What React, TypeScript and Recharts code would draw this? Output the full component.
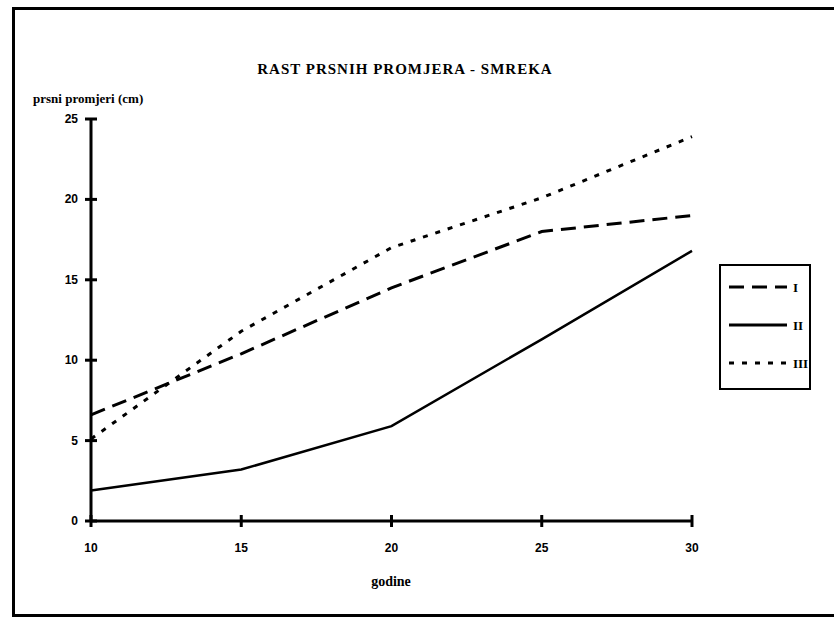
import React from "react";
import { LineChart, Line, XAxis, YAxis, Legend } from "recharts";

const years = [10, 15, 20, 25, 30];
const seriesI = [6.6, 10.4, 14.5, 18.0, 19.0];
const seriesII = [1.9, 3.2, 5.9, 11.3, 16.8];
const seriesIII = [5.1, 11.8, 17.0, 20.1, 23.9];
const yTicks = [0, 5, 10, 15, 20, 25];
const xTicks = [10, 15, 20, 25, 30];

const chartData = years.map((year, i) => ({
  year,
  I: seriesI[i],
  II: seriesII[i],
  III: seriesIII[i],
}));

const dashes: Record<string, string | undefined> = {
  I: "15 8",
  II: undefined,
  III: "5 8",
};

const serif = '"Liberation Serif", "DejaVu Serif", serif';
const sans = '"Liberation Sans", Arial, sans-serif';

const YTick = (props: any) => {
  const { x, y, payload } = props;
  return (
    <g>
      <line x1={x - 6} x2={x + 6} y1={y} y2={y} stroke="#000" strokeWidth={3} />
      <text x={x - 13} y={y + 4} textAnchor="end" fontFamily={sans} fontWeight="bold" fontSize={12} fill="#000">
        {payload.value}
      </text>
    </g>
  );
};

const XTick = (props: any) => {
  const { x, y, payload } = props;
  return (
    <g>
      <line x1={x} x2={x} y1={y - 6} y2={y + 6} stroke="#000" strokeWidth={3} />
      <text x={x} y={y + 31} textAnchor="middle" fontFamily={sans} fontWeight="bold" fontSize={12} fill="#000">
        {payload.value}
      </text>
    </g>
  );
};

const LegendBox = (props: any) => {
  const items = props.payload || [];
  return (
    <div style={{ width: 92, height: 126, border: "2px solid #000", boxSizing: "border-box", background: "#fff" }}>
      <svg width={88} height={122}>
        {items.map((item: any, i: number) => {
          const y = 21 + i * 38;
          return (
            <g key={item.value}>
              <line x1={8} x2={66} y1={y} y2={y} stroke="#000" strokeWidth={3} strokeDasharray={dashes[item.value]} />
              <text x={72} y={y + 5} fontFamily={serif} fontWeight="bold" fontSize={13} fill="#000">
                {item.value}
              </text>
            </g>
          );
        })}
      </svg>
    </div>
  );
};

export default function App() {
  return (
    <div style={{ position: "absolute", left: 0, top: 0, width: 835, height: 621, background: "#fff" }}>
      <div
        style={{
          position: "absolute",
          left: 12,
          top: 7,
          width: 822,
          height: 610,
          borderLeft: "3px solid #000",
          borderTop: "3px solid #000",
          borderBottom: "3px solid #000",
          boxSizing: "border-box",
        }}
      />
      <div
        style={{
          position: "absolute",
          left: 0,
          width: 810,
          top: 61,
          textAlign: "center",
          fontFamily: serif,
          fontWeight: "bold",
          fontSize: 15,
          letterSpacing: 1,
        }}
      >
        RAST PRSNIH PROMJERA - SMREKA
      </div>
      <div style={{ position: "absolute", left: 33, top: 91, fontFamily: serif, fontWeight: "bold", fontSize: 13 }}>
        prsni promjeri (cm)
      </div>
      <div
        style={{
          position: "absolute",
          left: 341,
          width: 100,
          top: 574,
          textAlign: "center",
          fontFamily: serif,
          fontWeight: "bold",
          fontSize: 14,
        }}
      >
        godine
      </div>
      <LineChart width={835} height={621} data={chartData} margin={{ top: 119, right: 143, bottom: 70, left: 51 }}>
        <XAxis
          dataKey="year"
          type="number"
          domain={[10, 30]}
          ticks={xTicks}
          height={30}
          tickSize={0}
          tickMargin={0}
          tickLine={false}
          tick={<XTick />}
          axisLine={{ stroke: "#000", strokeWidth: 3 }}
        />
        <YAxis
          type="number"
          domain={[0, 25]}
          ticks={yTicks}
          width={40}
          tickSize={0}
          tickMargin={0}
          tickLine={false}
          tick={<YTick />}
          axisLine={{ stroke: "#000", strokeWidth: 3 }}
        />
        <Legend
          layout="vertical"
          align="center"
          verticalAlign="middle"
          content={<LegendBox />}
          wrapperStyle={{ left: 719, top: 264, width: 92, height: 126 }}
        />
        <Line type="linear" dataKey="I" name="I" stroke="#000" strokeWidth={3} strokeDasharray="15 8" dot={false} isAnimationActive={false} />
        <Line type="linear" dataKey="II" name="II" stroke="#000" strokeWidth={2.5} dot={false} isAnimationActive={false} />
        <Line type="linear" dataKey="III" name="III" stroke="#000" strokeWidth={3} strokeDasharray="5 8" dot={false} isAnimationActive={false} />
      </LineChart>
    </div>
  );
}
